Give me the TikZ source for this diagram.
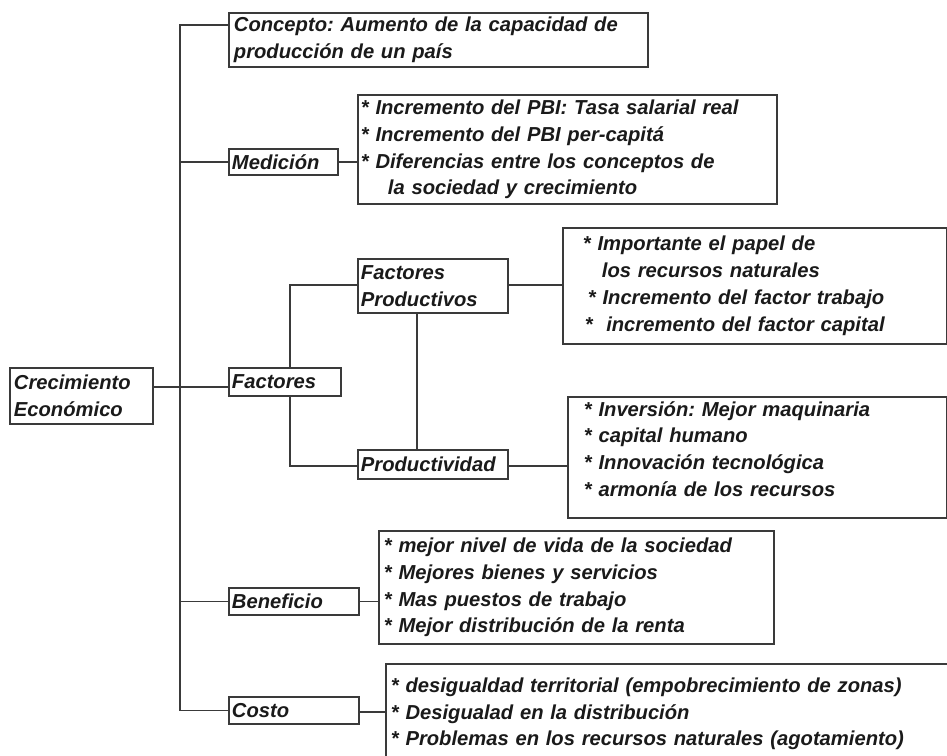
\documentclass[tikz,border=0pt]{standalone}
\usepackage{fontspec}
\setmainfont{Liberation Sans}
\usetikzlibrary{calc}
\definecolor{linec}{HTML}{3A3A3A}
\definecolor{txt}{HTML}{1A1A1A}
\frenchspacing
\tikzset{
  bx/.style={draw=linec, line width=1.9pt, anchor=north west, align=left,
    inner ysep=0pt, text=txt,
    font=\bfseries\itshape\fontsize{20.2}{26.8}\selectfont},
  conn/.style={draw=linec, line width=1.9pt}
}
\begin{document}
\begin{tikzpicture}[x=1pt,y=-1pt]
\clip (0,0) rectangle (947,755);
\fill[white] (0,0) rectangle (947,755);
% nodes
\node[bx, inner xsep=5pt, text width=409pt, minimum height=54pt] (con) at (228,12)
  {Concepto: Aumento de la capacidad de\\producción de un país};
\node[bx, inner xsep=3pt, text width=103pt, minimum height=26pt] (med) at (228,148) {Medición};
\node[bx, inner xsep=3pt, text width=413pt, minimum height=109pt] (medl) at (357,94)
  {* Incremento del PBI: Tasa salarial real\\{}* Incremento del PBI per-capitá\\{}* Diferencias entre los conceptos de\\\hspace*{27pt}la sociedad y crecimiento};
\node[bx, inner xsep=4pt, text width=135pt, minimum height=56pt] (cre) at (9,367) {Crecimiento\\Económico};
\node[bx, inner xsep=3pt, text width=106pt, minimum height=28pt] (fac) at (228,367) {Factores};
\node[bx, inner xsep=3pt, text width=144pt, minimum height=54pt] (fp) at (357,258) {Factores\\Productivos};
\node[bx, inner xsep=3pt, text width=144pt, minimum height=29pt] (prod) at (357,449) {Productividad};
\node[bx, inner xsep=20pt, text width=344pt, minimum height=116pt] (fpl) at (562,227)
  {* Importante el papel de\\\hspace*{19pt}los recursos naturales\\\hspace*{5pt}* Incremento del factor trabajo\\\hspace*{2pt}*\ \ incremento del factor capital};
\node[bx, inner xsep=16pt, text width=347pt, minimum height=121pt] (prodl) at (567,396)
  {* Inversión: Mejor maquinaria\\{}* capital humano\\{}* Innovación tecnológica\\{}* armonía de los recursos\rule[-17pt]{0pt}{1pt}};
\node[bx, inner xsep=5pt, text width=385pt, minimum height=113pt] (benl) at (378,530)
  {* mejor nivel de vida de la sociedad\\{}* Mejores bienes y servicios\\{}* Mas puestos de trabajo\\{}* Mejor distribución de la renta};
\node[bx, inner xsep=3pt, text width=124pt, minimum height=27pt] (ben) at (228,587) {Beneficio};
\node[bx, inner xsep=3pt, text width=124pt, minimum height=27pt] (cos) at (228,696) {Costo};
\node[bx, inner xsep=5pt, text width=590pt, minimum height=100pt] (cosl) at (385,663)
  {* desigualdad territorial (empobrecimiento de zonas)\\{}* Desigualad en la distribución\\{}* Problemas en los recursos naturales (agotamiento)};
% connectors
\draw[conn] ([yshift=-13pt]con.north west) -| ([xshift=-48pt]cos.west) -- (cos.west);
\draw[conn] (med.west) -- ([xshift=-48pt]med.west);
\draw[conn] (ben.west) -- ([xshift=-48pt]ben.west);
\draw[conn] ([yshift=-20pt]cre.north east) -- ([yshift=-20pt]fac.north west);
\draw[conn] (med.east) -- (med.east -| medl.west);
\draw[conn] ([yshift=-27pt]fp.north east) -- ([yshift=-27pt]fp.north east -| fpl.west);
\draw[conn] ([yshift=-17pt]prod.north east) -- ([yshift=-17pt]prod.north east -| prodl.west);
\draw[conn] ([xshift=62pt]fac.north west) |- ([yshift=-27pt]fp.north west);
\draw[conn] ([xshift=62pt]fac.south west) |- ([yshift=-17pt]prod.north west);
\draw[conn] ([xshift=60pt]fp.south west) -- ([xshift=60pt]prod.north west);
\draw[conn] (ben.east) -- (ben.east -| benl.west);
\draw[conn] ([yshift=-16pt]cos.north east) -- ([yshift=-16pt]cos.north east -| cosl.west);
\end{tikzpicture}
\end{document}
